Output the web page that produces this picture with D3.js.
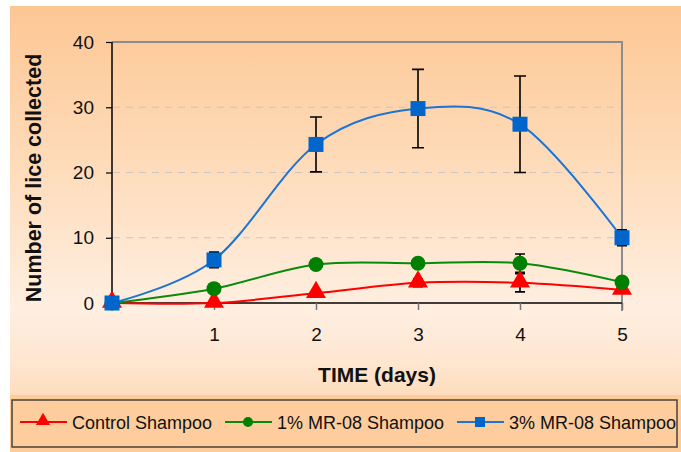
<!DOCTYPE html>
<html><head><meta charset="utf-8">
<script src="https://cdn.jsdelivr.net/npm/d3@7"></script>
<style>body{margin:0;background:#fff}svg{display:block}text{font-family:"Liberation Sans",Arial,sans-serif}</style>
</head><body><svg id="c" width="681" height="452"></svg>
<script>
const days = [0, 1, 2, 3, 4, 5];
const xTicks = [1, 2, 3, 4, 5];
const yTicks = [0, 10, 20, 30, 40];
const seriesNames = ["Control Shampoo", "1% MR-08 Shampoo", "3% MR-08 Shampoo"];
const controlVals = [0, 0, 1.5, 3.1, 3.1, 2.0];
const controlErr  = [0, 0.4, 0.5, 0.6, 1.4, 0.4];
const mr1Vals = [0, 2.2, 5.9, 6.1, 6.1, 3.2];
const mr1Err  = [0, 0.6, 0.7, 0.5, 1.4, 0.5];
const mr3Vals = [0, 6.6, 24.3, 29.8, 27.4, 10.0];
const mr3Err  = [0, 1.2, 4.2, 6.0, 7.4, 1.2];

const svg = d3.select("#c");
const defs = svg.append("defs");
const g = defs.append("linearGradient").attr("id","bg").attr("x1",0).attr("y1",0).attr("x2",0).attr("y2",1);
[[0,"#fdc794"],[0.35,"#fedbb9"],[0.68,"#feefe1"],[0.8,"#fee6d0"],[1,"#fdcc9b"]].forEach(s=>g.append("stop").attr("offset",s[0]).attr("stop-color",s[1]));
svg.append("rect").attr("x",10).attr("y",6).attr("width",671).attr("height",446).attr("fill","url(#bg)");
svg.append("rect").attr("x",10).attr("y",395).attr("width",671).attr("height",57).attr("fill","#fdcc9b");

const x = d3.scaleLinear().domain([0,5]).range([112,622]);
const y = d3.scaleLinear().domain([0,40]).range([303,42]);

svg.append("g").selectAll("line").data(yTicks.filter(t=>t>0&&t<40)).join("line")
  .attr("x1",113).attr("x2",622).attr("y1",d=>y(d)).attr("y2",d=>y(d))
  .attr("stroke","#c9c6c2").attr("stroke-width",1).attr("stroke-dasharray","7,6");
svg.append("path").attr("d",`M${x(0)},${y(40)}H${x(5)}V${y(0)+8}`).attr("fill","none").attr("stroke","#8c8c8c").attr("stroke-width",2);

const yAxis = d3.axisLeft(y).tickValues(yTicks).tickSize(6).tickPadding(12);
const ya = svg.append("g").attr("transform",`translate(${x(0)},0)`).call(yAxis);
ya.select(".domain").attr("stroke","#000").attr("stroke-width",1.5).attr("d",`M0,${y(40)}V${y(0)}`);
ya.selectAll(".tick line").attr("stroke","#000").attr("stroke-width",1.2);
ya.selectAll("text").attr("font-size",19).attr("fill","#111").attr("font-family","Liberation Sans, Arial");

const xAxis = d3.axisBottom(x).tickValues([0].concat(xTicks)).tickSize(7).tickPadding(18).tickFormat(d=>d===0?"":d);
const xa = svg.append("g").attr("transform",`translate(0,${y(0)})`).call(xAxis);
xa.select(".domain").attr("stroke","#000").attr("stroke-width",1.5).attr("d",`M${x(0)},0H${x(5)}`);
xa.selectAll(".tick line").attr("stroke","#777").attr("stroke-width",1.5);
xa.selectAll("text").attr("font-size",19).attr("fill","#111").attr("font-family","Liberation Sans, Arial");

svg.append("text").attr("x",377).attr("y",382).attr("text-anchor","middle").attr("font-size",21).attr("font-weight","bold").attr("fill","#111").text("TIME (days)");
svg.append("text").attr("transform","translate(41,178) rotate(-90)").attr("text-anchor","middle").attr("font-size",21.5).attr("font-weight","bold").attr("fill","#111").text("Number of lice collected");

const series = [
  {name:seriesNames[0], vals:controlVals, err:controlErr, line:"#ff0000", fill:"#ff0000", shape:"tri"},
  {name:seriesNames[1], vals:mr1Vals, err:mr1Err, line:"#0a8a0a", fill:"#008000", shape:"circ"},
  {name:seriesNames[2], vals:mr3Vals, err:mr3Err, line:"#1c74d4", fill:"#0066cc", shape:"sq"}
];
const lineGen = d3.line().x((d,i)=>x(days[i])).y(d=>y(d)).curve(d3.curveCardinal.tension(0));

function marker(sel, shape, fill, size){
  if(shape==="tri") sel.append("path").attr("d",d3.symbol(d3.symbolTriangle, size*size*0.6)()).attr("fill",fill).attr("transform","translate(0,-1)");
  else if(shape==="circ") sel.append("circle").attr("r",size*0.5).attr("fill",fill);
  else sel.append("rect").attr("x",-size/2).attr("y",-size/2).attr("width",size).attr("height",size).attr("fill",fill);
}

const layer = svg.append("g");
series.forEach(s=>{
  layer.append("path").attr("d",lineGen(s.vals)).attr("fill","none").attr("stroke",s.line).attr("stroke-width",2);
});
series.forEach(s=>{
  const eg = layer.append("g");
  s.vals.forEach((v,i)=>{
    const e = s.err[i]; if(!e) return;
    const cx = x(days[i]), t = y(v+e), b = y(Math.max(0,v-e));
    const cw = (b-t)>20 ? 6 : 5;
    eg.append("path").attr("d",`M${cx},${t}V${b}M${cx-cw},${t}H${cx+cw}M${cx-cw},${b}H${cx+cw}`)
      .attr("stroke","#000").attr("stroke-width",1.6).attr("fill","none");
  });
});
series.forEach(s=>{
  s.vals.forEach((v,i)=>{
    const mg = layer.append("g").attr("transform",`translate(${x(days[i])},${y(v)})`);
    marker(mg, s.shape, s.fill, s.shape==="circ"?15:(s.shape==="tri"?17:15));
  });
});

svg.append("rect").attr("x",12).attr("y",400).attr("width",665).attr("height",47).attr("fill","#fdcd9e").attr("stroke","#4a4038").attr("stroke-width",1.5);
const legX = [20, 225, 457];
series.forEach((s,i)=>{
  const lg = svg.append("g").attr("transform",`translate(${legX[i]},422)`);
  lg.append("line").attr("x1",0).attr("x2",47).attr("stroke",s.line).attr("stroke-width",2);
  const mg = lg.append("g").attr("transform","translate(23,0)");
  marker(mg, s.shape, s.fill, s.shape==="circ"?10:(s.shape==="tri"?12:10));
  lg.append("text").attr("x",52).attr("y",6.5).attr("font-size",18).attr("fill","#111").text(s.name);
});
</script></body></html>
